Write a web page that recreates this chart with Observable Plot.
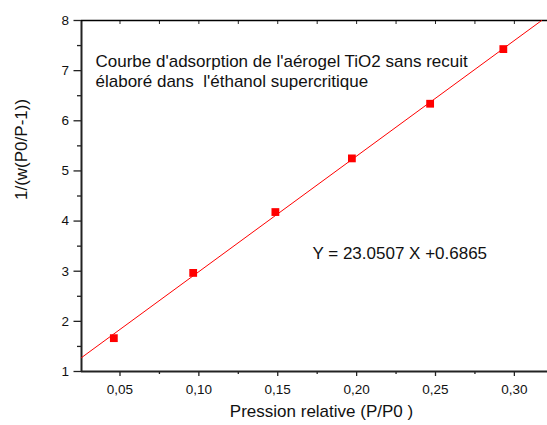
<!DOCTYPE html>
<html>
<head>
<meta charset="utf-8">
<script src="https://cdn.jsdelivr.net/npm/d3@7"></script>
<script src="https://cdn.jsdelivr.net/npm/@observablehq/plot@0.6"></script>
<style>
  body { margin: 0; background: #fff; }
  svg { font-family: "Liberation Sans", Arial, sans-serif; }
</style>
</head>
<body>
<div id="chart"></div>
<script>
// Data
const pressure = [0.0461, 0.0964, 0.1485, 0.197, 0.2466, 0.293];
const yValues  = [1.665, 2.966, 4.18, 5.25, 6.34, 7.43];
// Fit given on the chart: Y = 23.0507 X + 0.6865
const slope = 23.0507;
const intercept = 0.6865;
const xDomain = [0.0256, 0.321];
const yDomain = [1, 8];
const xMajorTicks = [0.05, 0.10, 0.15, 0.20, 0.25, 0.30];
const xMinorTicks = [0.075, 0.125, 0.175, 0.225, 0.275];
const xTopTicks = [0.05, 0.075, 0.10, 0.125, 0.15, 0.175, 0.20, 0.225, 0.25, 0.275, 0.30];
const yMajorTicks = [1, 2, 3, 4, 5, 6, 7, 8];
const yMinorTicks = [1.5, 2.5, 3.5, 4.5, 5.5, 6.5, 7.5];
const xLabel = "Pression relative (P/P0 )";
const yLabel = "1/(w(P0/P-1))";
const noteText = "Courbe d'adsorption de l'aérogel TiO2 sans recuit\nélaboré dans  l'éthanol supercritique";
const eqText = "Y = 23.0507 X +0.6865";

const points = pressure.map((x, i) => ({x, y: yValues[i]}));
// fit line from the left edge of the frame to where it reaches the top (y = 8)
const xEnd = (yDomain[1] - intercept) / slope;
const fitLine = [xDomain[0], xEnd].map(x => ({x, y: slope * x + intercept}));
const fmt = d => d.toFixed(2).replace(".", ",");

const chart = Plot.plot({
  width: 547,
  height: 425,
  marginLeft: 81,
  marginRight: 0,
  marginTop: 20,
  marginBottom: 54,
  style: {fontFamily: "'Liberation Sans', Arial, sans-serif", background: "#fff"},
  x: {domain: xDomain},
  y: {domain: yDomain},
  marks: [
    Plot.axisX({ticks: xMajorTicks, tickSize: 5, tickPadding: 8, tickFormat: fmt, fontSize: 13.5, label: null, stroke: "#222", strokeWidth: 1.3, color: "#111"}),
    Plot.axisX({ticks: xMinorTicks, tickSize: 3, tickFormat: () => "", label: null, stroke: "#222", strokeWidth: 1.3}),
    Plot.axisX({anchor: "top", ticks: xTopTicks, tickSize: -3, tickFormat: () => "", label: null, stroke: "#222", strokeWidth: 1}),
    Plot.axisY({ticks: yMajorTicks, tickSize: 7.5, tickPadding: 5, tickFormat: d => String(d), fontSize: 13.5, label: null, stroke: "#222", strokeWidth: 1.3, color: "#111"}),
    Plot.axisY({ticks: yMinorTicks, tickSize: 4, tickFormat: () => "", label: null, stroke: "#222", strokeWidth: 1.3}),
    Plot.ruleX([xDomain[0]], {stroke: "#222", strokeWidth: 2}),
    Plot.ruleY([yDomain[0]], {stroke: "#222", strokeWidth: 2}),
    Plot.ruleY([yDomain[1]], {stroke: "#000", strokeWidth: 1.5}),
    Plot.line(fitLine, {x: "x", y: "y", stroke: "#ff0000", strokeWidth: 1}),
    Plot.dot(points, {x: "x", y: "y", symbol: "square", r: 4.4, fill: "#ff0000", stroke: "none"}),
    Plot.text([noteText], {frameAnchor: "top-left", textAnchor: "start", lineAnchor: "top", dx: 14, dy: 33, fontSize: 17, lineHeight: 1.15, fill: "#111"}),
    Plot.text([eqText], {frameAnchor: "top-left", textAnchor: "start", dx: 231, dy: 226, fontSize: 17, fill: "#111"}),
    Plot.text([xLabel], {frameAnchor: "bottom", dx: 7, dy: 45.5, fontSize: 17, fill: "#111"}),
    Plot.text([yLabel], {frameAnchor: "left", rotate: -90, dx: -60, dy: 4, fontSize: 17, fill: "#111"})
  ]
});
document.getElementById("chart").appendChild(chart);
</script>
</body>
</html>
